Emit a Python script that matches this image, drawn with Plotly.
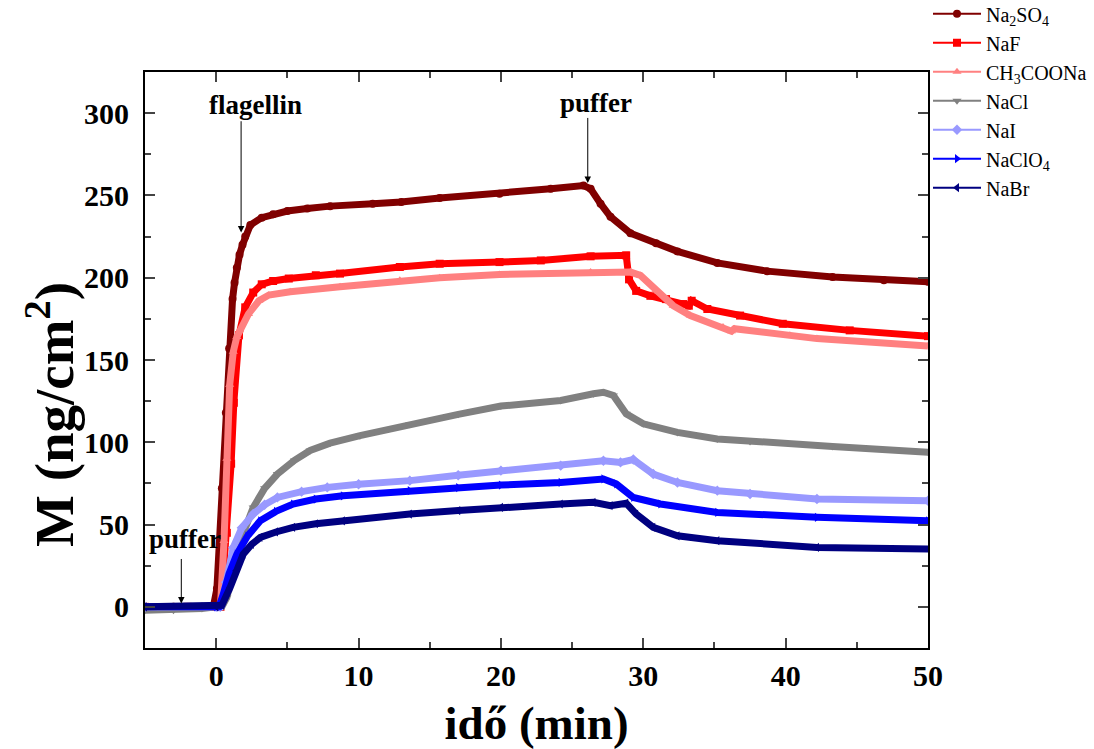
import plotly.graph_objects as go

# ---------------- data ----------------
t_na2so4 = [-5, -3, -1, -0.2, 0.05, 0.4, 0.68, 0.91, 1.15, 1.29, 1.45, 1.64, 1.85, 2.04, 2.4, 3.2, 4, 5, 6.4, 8, 11, 13, 15.7, 19.9, 23.5, 25.8, 26.3, 27, 27.7, 29.1, 30.9, 32.4, 35.2, 38.7, 43.3, 46.9, 50]
m_na2so4 = [0, 0, 0, 0, 11, 72, 118, 157, 187, 197, 206, 214, 220, 225, 232, 236.5, 238.5, 240.5, 242, 243.5, 245, 246, 248.5, 251, 254, 256, 254, 245, 237, 227, 221, 216, 209, 204, 200.4, 198.4, 197.5]

t_naf = [-5, -2, 0, 0.3, 0.5, 0.75, 1.05, 1.24, 1.38, 1.6, 2.04, 2.6, 3.2, 4, 5.1, 7, 8.7, 12.9, 15.7, 19.9, 22.8, 26.3, 28.8, 29.0, 29.5, 30.5, 31.6, 32.8, 33.2, 33.4, 34.5, 36.8, 39.8, 44.5, 50]
m_naf = [0, 0, 0, 0, 20, 45, 87, 124, 148, 165, 182, 191, 196, 198, 199.5, 201.5, 202.5, 206.5, 208.5, 209.5, 210.5, 213, 213.6, 199, 192, 189, 187, 184, 183, 186, 181, 177, 172, 168, 164.5]

t_ch3coona = [-5, -2, 0, 0.3, 0.55, 0.75, 0.95, 1.2, 1.45, 2.27, 3.0, 3.7, 5.2, 8.7, 12.9, 15.7, 19.9, 26.3, 29.1, 29.8, 30.9, 32.1, 33.3, 35.6, 36.2, 36.4, 40.3, 42.2, 50]
m_ch3coona = [0, 0, 0, 0, 40, 90, 135, 155, 164, 178, 186, 189.5, 191.5, 194.5, 198.4, 200, 202, 203.4, 203.4, 201.4, 192.3, 183, 177, 170, 167.5, 169, 165, 163, 158.5]

t_nacl = [-5, -3, -1, 0, 0.4, 0.75, 1.2, 1.7, 2.6, 3.4, 4.3, 5.5, 6.6, 8, 10.1, 13.6, 17, 20, 24.2, 26.5, 27.2, 27.9, 28.8, 30, 32.4, 35.2, 37.5, 43.3, 50]
m_nacl = [-2, -2, -1, 0, 0, 5.7, 22, 40, 60.4, 72, 80.7, 89, 95, 99.5, 104, 111, 117, 122, 125.4, 129.5, 130.4, 128.4, 117.3, 111.2, 106, 102, 100.5, 97.5, 94]

t_nai = [-5, 0, 0.28, 0.7, 1.2, 1.8, 2.6, 3.4, 4.3, 6, 7.8, 10, 13.6, 17, 20, 24.2, 27.2, 28.4, 29.3, 30.7, 32.4, 35.2, 37.5, 42.2, 50]
m_nai = [0, 0, 0, 15, 36, 48, 56.4, 62, 66.5, 70, 72.6, 74.5, 76.7, 80, 82.8, 85.8, 88.8, 87.8, 89.5, 80.7, 75.6, 70.6, 68.6, 65.5, 64.5]

t_naclo4 = [-5, 0, 0.2, 0.5, 0.9, 1.45, 2.2, 3.1, 4.2, 5.4, 7, 8.9, 13.6, 17, 20, 24.2, 27.2, 28.1, 29.3, 31.2, 35.2, 42.2, 50]
m_naclo4 = [0, 0, 0, 7.7, 20, 32, 43, 52.3, 58, 62.5, 65.5, 67.5, 70.6, 72.5, 74, 75.6, 77.7, 74.7, 66.5, 62.5, 57.4, 54.4, 52.3]

t_nabr = [-5, 0, 0.4, 0.98, 1.4, 1.9, 2.5, 3.1, 4.2, 5.4, 7, 8.9, 13.6, 17, 20, 24.2, 26.5, 27.7, 28.8, 29.5, 30.7, 32.4, 35.2, 42.2, 50]
m_nabr = [0, 0, 1, 11.8, 22, 32, 38, 42.2, 45.5, 48.3, 50.5, 52.3, 56.4, 58.5, 60.5, 62.5, 63.5, 61.5, 63.0, 56.4, 48.3, 43.2, 40.2, 36.1, 35.1]

names = ["Na<sub>2</sub>SO<sub>4</sub>", "NaF", "CH<sub>3</sub>COONa", "NaCl", "NaI", "NaClO<sub>4</sub>", "NaBr"]
times = [t_na2so4, t_naf, t_ch3coona, t_nacl, t_nai, t_naclo4, t_nabr]
masses = [m_na2so4, m_naf, m_ch3coona, m_nacl, m_nai, m_naclo4, m_nabr]

x_ticks = [0, 10, 20, 30, 40, 50]
y_ticks = [0, 50, 100, 150, 200, 250, 300]

# ---------------- styling ----------------
colors = ["#800000", "#FF0000", "#FF8080", "#808080", "#9999FF", "#0000FF", "#000080"]
symbols = ["circle", "square", "triangle-up", "triangle-down", "diamond", "triangle-right", "triangle-left"]
FONT = "Liberation Serif, Times New Roman, serif"

fig = go.Figure()
for name, t, m, c, s in zip(names, times, masses, colors, symbols):
    fig.add_trace(go.Scatter(
        x=t, y=m, mode="lines+markers", name=name, legendgroup=name, showlegend=False,
        line=dict(color=c, width=7), marker=dict(color=c, symbol=s, size=8)))
for name, c, s in zip(names, colors, symbols):
    fig.add_trace(go.Scatter(
        x=[None], y=[None], mode="lines+markers", name=name, legendgroup=name,
        line=dict(color=c, width=2), marker=dict(color=c, symbol=s, size=8)))

ann_font = dict(family=FONT, size=27, color="black", weight="bold")
annotations = [
    dict(x=2.75, y=305, text="flagellin", showarrow=False, font=ann_font),
    dict(x=1.75, y=227.5, ax=1.75, ay=296, axref="x", ayref="y", text="",
         showarrow=True, arrowhead=2, arrowsize=1.3, arrowwidth=1, arrowcolor="black"),
    dict(x=26.7, y=306, text="puffer", showarrow=False, font=ann_font),
    dict(x=26.1, y=257.5, ax=26.1, ay=298, axref="x", ayref="y", text="",
         showarrow=True, arrowhead=2, arrowsize=1.3, arrowwidth=1, arrowcolor="black"),
    dict(x=-2.2, y=41.5, text="puffer", showarrow=False, font=ann_font),
    dict(x=-2.45, y=2, ax=-2.45, ay=30, axref="x", ayref="y", text="",
         showarrow=True, arrowhead=2, arrowsize=1.3, arrowwidth=1, arrowcolor="black"),
    # y-axis title (placed as rotated text to match the reference position)
    dict(x=-0.1213, y=0.4045, xref="paper", yref="paper", text="M (ng/cm<sup>2</sup>)",
         textangle=-90, showarrow=False, xanchor="center", yanchor="middle",
         font=dict(family=FONT, size=55, color="black", weight="bold")),
]

fig.update_layout(
    width=1094, height=749,
    margin=dict(l=145, r=166, t=72, b=101, autoexpand=False),
    paper_bgcolor="white", plot_bgcolor="white",
    font=dict(family=FONT, color="black"),
    annotations=annotations,
    legend=dict(x=1.0, y=1.135, xanchor="left", yanchor="top", itemwidth=48,
                font=dict(family=FONT, size=20, color="black"),
                bgcolor="rgba(0,0,0,0)", tracegroupgap=0),
    xaxis=dict(range=[-5, 50], tickvals=x_ticks, ticks="inside", ticklen=10, tickwidth=2,
               showline=True, linewidth=2, linecolor="black", mirror="allticks",
               showgrid=False, zeroline=False, ticklabelstandoff=0,
               minor=dict(dtick=5, tick0=0, ticks="inside", ticklen=6, tickwidth=2, showgrid=False),
               tickfont=dict(family=FONT, size=30, color="black", weight="bold"),
               title=dict(text="idő (min)", standoff=18,
                          font=dict(family=FONT, size=47, color="black", weight="bold"))),
    yaxis=dict(range=[-25, 325], tickvals=y_ticks, ticks="inside", ticklen=10, tickwidth=2,
               showline=True, linewidth=2, linecolor="black", mirror="allticks",
               showgrid=False, zeroline=False, ticklabelstandoff=8,
               minor=dict(dtick=25, tick0=0, ticks="inside", ticklen=6, tickwidth=2, showgrid=False),
               tickfont=dict(family=FONT, size=30, color="black", weight="bold")),
)

fig.write_html("out.html")
